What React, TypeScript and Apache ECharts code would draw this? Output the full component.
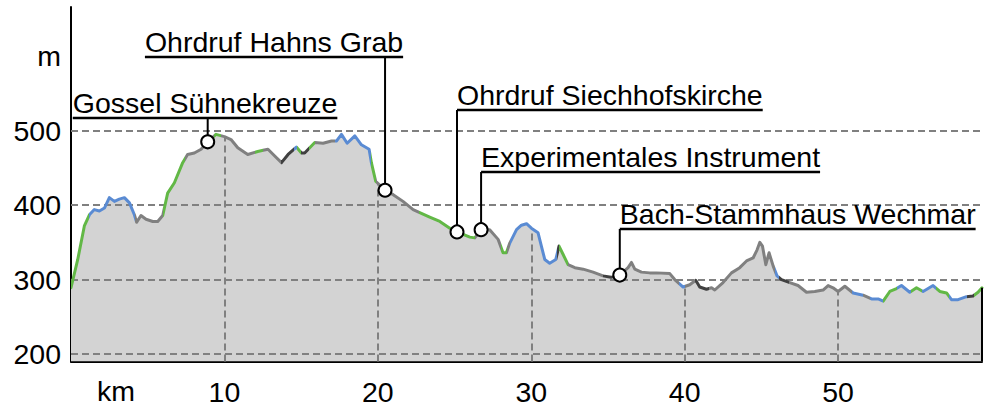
import React, { useEffect, useRef } from 'react';
import * as echarts from 'echarts';

// ---- data ----
const kmValues = [
  0.0, 0.44, 0.87, 1.2, 1.52, 1.85, 2.18, 2.5, 2.83, 3.15, 3.48, 3.81, 4.13, 4.28, 4.56, 4.89, 5.33, 5.65, 5.98,
  6.3, 6.74, 7.28, 7.6, 8.04, 8.48, 8.91, 9.45, 10.0, 10.43, 10.87, 11.52, 12.17, 12.6, 12.84, 13.28, 13.72,
  14.15, 14.69, 15.02, 15.23, 15.56, 15.89, 16.43, 16.98, 17.3, 17.63, 18.0, 18.5, 18.93, 19.43, 19.58, 19.86,
  20.47, 21.0, 21.64, 22.3, 22.73, 23.38, 24.04, 24.69, 25.16, 26.0, 26.32, 26.73, 27.29, 27.84, 28.16, 28.38,
  28.6, 29.04, 29.36, 29.69, 30.01, 30.44, 30.66, 30.88, 31.2, 31.6, 31.81, 32.07, 32.4, 32.84, 33.38, 34.03,
  34.68, 35.2, 35.77, 36.31, 36.53, 36.75, 37.18, 37.72, 38.16, 39.03, 39.35, 39.9, 40.33, 40.72, 40.98, 41.42,
  41.75, 41.96, 42.5, 43.05, 43.59, 44.03, 44.46, 44.72, 44.9, 45.07, 45.29, 45.5, 45.77, 46.02, 46.31, 46.85,
  47.39, 47.94, 48.48, 49.02, 49.35, 49.67, 50.0, 50.44, 50.98, 51.63, 52.18, 52.61, 52.94, 53.37, 53.81, 54.13,
  54.67, 55.11, 55.54, 56.19, 56.63, 57.07, 57.39, 57.82, 58.37, 58.8, 59.12, 59.38,
];
const elevValues = [
  289, 327, 372, 387, 394, 392, 396, 410, 405, 408, 410, 403, 387, 377, 386, 381, 378, 378, 386,
  416, 430, 457, 468, 470, 475, 485, 495, 492, 488, 477, 468, 472, 474, 475, 466, 457,
  468, 478, 470, 470, 477, 484, 483, 486, 486, 495, 483, 493, 481, 475, 457, 432,
  420, 414, 405, 394, 390, 384, 378, 369, 364, 357, 356, 367, 367, 354, 336, 336,
  349, 367, 373, 375, 369, 363, 345, 327, 322, 327, 345, 334, 320, 316, 314, 310,
  305, 303, 306, 316, 323, 314, 310, 309, 309, 308, 300, 290, 293, 299, 290, 287,
  289, 286, 296, 309, 316, 325, 329, 340, 350, 345, 320, 336, 318, 305, 300, 296,
  292, 283, 284, 286, 292, 289, 284, 291, 282, 279, 274, 274, 271, 284, 288, 292,
  283, 289, 284, 292, 284, 282, 273, 273, 277, 278, 283, 289,
];

// colour class of the profile line from each km onward
const segmentStartKm = [
  0, 1.2, 4.2, 6.0, 7.4, 9.3, 9.8, 12.0, 12.5, 13.7, 14.55, 14.75, 15.0, 15.5, 15.9, 17.2, 19.55, 19.9,
  22.7, 24.8, 25.4, 26.35, 28.0, 28.4, 28.6, 31.65, 31.8, 32.4, 34.7, 35.6, 39.65, 40.0, 40.65, 41.6,
  45.9, 46.15, 46.8, 50.9, 51.6, 52.1, 52.95, 53.85, 54.75, 55.5, 56.4, 57.25, 58.4, 58.85,
];
const segmentKind = [
  'green', 'blue', 'gray', 'green', 'gray', 'green', 'gray', 'green', 'gray', 'dark', 'blue', 'green', 'dark', 'green', 'gray', 'blue', 'green', 'gray',
  'green', 'gray', 'green', 'gray', 'green', 'gray', 'blue', 'dark', 'green', 'gray', 'dark', 'gray', 'blue', 'gray', 'dark', 'gray',
  'blue', 'dark', 'gray', 'blue', 'gray', 'blue', 'green', 'blue', 'green', 'blue', 'green', 'blue', 'dark', 'green',
];

const gridElevations = [200, 300, 400, 500];
const gridKms = [10, 20, 30, 40, 50];
const yTickLabels = ['200', '300', '400', '500'];
const yUnitLabel = 'm';
const xUnitLabel = 'km';

const poiNames = [
  'Gossel Sühnekreuze',
  'Ohrdruf Hahns Grab',
  'Ohrdruf Siechhofskirche',
  'Experimentales Instrument',
  'Bach-Stammhaus Wechmar',
];
const poiKm = [8.91, 20.47, 25.16, 26.73, 35.77];
const poiElev = [485, 420, 364, 367, 306];

// ---- layout / style ----
const W = 996;
const H = 406;
const X_MIN = 0;
const X_MAX = 59.38;
const Y_MIN = 190;
const Y_MAX = 666;
const FONT = '"Liberation Sans", Arial, Helvetica, sans-serif';
const FS = 28.5;
const kindColor: Record<string, string> = {
  green: '#62b846',
  blue: '#5a8bd3',
  gray: '#808080',
  dark: '#404040',
};
const poiLabelY = [118, 57, 110, 172, 229];
const poiAnchor = [0.51, 0.93, 0, 0, 0];

function elevAt(k: number): number {
  for (let i = 1; i < kmValues.length; i++) {
    if (k <= kmValues[i]) {
      const t = (k - kmValues[i - 1]) / (kmValues[i] - kmValues[i - 1]);
      return elevValues[i - 1] + t * (elevValues[i] - elevValues[i - 1]);
    }
  }
  return elevValues[elevValues.length - 1];
}

let measureCtx: CanvasRenderingContext2D | null = null;
function textWidth(s: string): number {
  if (!measureCtx) {
    measureCtx = document.createElement('canvas').getContext('2d');
  }
  if (!measureCtx) return s.length * FS * 0.5;
  measureCtx.font = `${FS}px ${FONT}`;
  return measureCtx.measureText(s).width;
}

export default function App() {
  const ref = useRef<HTMLDivElement>(null);

  useEffect(() => {
    document.body.style.margin = '0';
    if (!ref.current) return;
    const chart = echarts.init(ref.current, undefined, { renderer: 'svg' });

    const profile = kmValues.map((k, i) => [k, elevValues[i]]);
    const pieces = segmentStartKm.map((s, i) => {
      const p: any = { gte: s, color: kindColor[segmentKind[i]] };
      if (i < segmentStartKm.length - 1) p.lt = segmentStartKm[i + 1];
      else p.lte = 1000;
      return p;
    });

    const gridLineStyle = { type: [7, 4], color: '#808080', width: 2 };
    const lastKm = kmValues[kmValues.length - 1];
    const lastElev = elevValues[elevValues.length - 1];

    chart.setOption({
      animation: false,
      textStyle: { fontFamily: FONT },
      grid: { left: 71, right: 14, top: 7, bottom: 44, containLabel: false },
      xAxis: {
        type: 'value',
        min: X_MIN,
        max: X_MAX,
        interval: 10,
        axisLine: { show: true, lineStyle: { color: '#000', width: 2 } },
        axisTick: { show: false },
        splitLine: { show: false },
        axisLabel: {
          color: '#000',
          fontSize: FS,
          fontFamily: FONT,
          lineHeight: 26,
          margin: 17,
          formatter: (v: number) => (v > 0 && v % 10 === 0 ? String(v) : ''),
        },
      },
      yAxis: {
        type: 'value',
        min: Y_MIN,
        max: Y_MAX,
        interval: 10,
        axisLine: { show: true, lineStyle: { color: '#000', width: 2 } },
        axisTick: { show: false },
        splitLine: { show: false },
        axisLabel: {
          color: '#000',
          fontSize: FS,
          fontFamily: FONT,
          margin: 10,
          padding: [12, 0, 0, 0],
          formatter: (v: number) => {
            const idx = gridElevations.indexOf(v);
            if (idx >= 0) return yTickLabels[idx];
            if (v === 600) return yUnitLabel;
            return '';
          },
        },
      },
      visualMap: {
        show: false,
        type: 'piecewise',
        dimension: 0,
        seriesIndex: 1,
        pieces,
      },
      graphic: [
        {
          type: 'text',
          x: 116,
          y: 391,
          z: 10,
          style: {
            text: xUnitLabel,
            fill: '#000',
            fontSize: FS,
            fontFamily: FONT,
            lineHeight: 26,
            align: 'center',
            verticalAlign: 'middle',
          },
        },
      ],
      series: [
        {
          type: 'line',
          z: 1,
          data: profile,
          symbol: 'none',
          silent: true,
          lineStyle: { width: 0, opacity: 0 },
          areaStyle: { color: '#d3d3d3', opacity: 1, origin: 'start' },
          markLine: {
            z: 2,
            silent: true,
            symbol: ['none', 'none'],
            label: { show: false },
            lineStyle: gridLineStyle,
            data: [
              ...gridElevations.map((v) => ({ yAxis: v })),
              ...gridKms.map((k) => [{ coord: [k, Y_MIN] }, { coord: [k, elevAt(k)] }]),
            ],
          },
        },
        {
          type: 'line',
          z: 3,
          data: profile,
          symbol: 'none',
          silent: true,
          lineStyle: { width: 3, join: 'round', cap: 'round' },
        },
        {
          type: 'line',
          z: 3,
          data: [
            [lastKm, Y_MIN],
            [lastKm, lastElev],
          ],
          symbol: 'none',
          silent: true,
          lineStyle: { width: 2, color: '#000' },
        },
        {
          type: 'custom',
          z: 4,
          clip: false,
          silent: true,
          data: poiKm.map((k, i) => [k, poiElev[i], i]),
          renderItem: (params: any, api: any) => {
            const i = params.dataIndex;
            const p = api.coord([api.value(0), api.value(1)]);
            const ly = poiLabelY[i];
            const w = textWidth(poiNames[i]);
            const x0 = p[0] - poiAnchor[i] * w;
            return {
              type: 'group',
              children: [
                {
                  type: 'line',
                  shape: { x1: p[0], y1: ly, x2: p[0], y2: p[1] },
                  style: { stroke: '#000', lineWidth: 2 },
                },
                {
                  type: 'line',
                  shape: { x1: x0, y1: ly, x2: x0 + w, y2: ly },
                  style: { stroke: '#000', lineWidth: 2.5 },
                },
                {
                  type: 'text',
                  x: x0,
                  y: ly - 15,
                  style: {
                    text: poiNames[i],
                    fill: '#000',
                    fontSize: FS,
                    fontFamily: FONT,
                    align: 'left',
                    verticalAlign: 'middle',
                  },
                },
              ],
            };
          },
        },
        {
          type: 'scatter',
          z: 5,
          silent: true,
          data: poiKm.map((k, i) => [k, poiElev[i]]),
          symbol: 'circle',
          symbolSize: 13,
          itemStyle: { color: '#fff', borderColor: '#000', borderWidth: 2, opacity: 1 },
        },
      ],
    });

    return () => {
      chart.dispose();
    };
  }, []);

  return (
    <div
      ref={ref}
      style={{ position: 'absolute', left: 0, top: 0, width: W, height: H }}
    />
  );
}
